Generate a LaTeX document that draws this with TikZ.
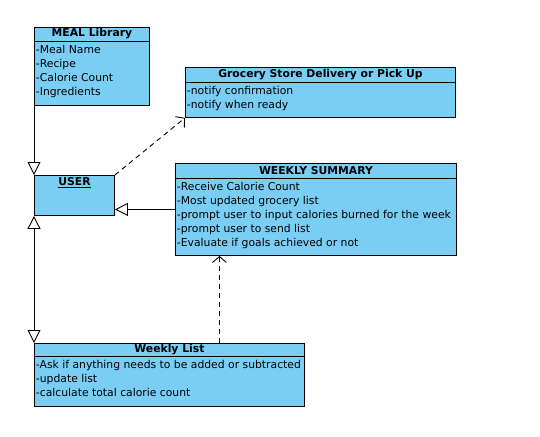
\documentclass[tikz,border=0pt]{standalone}
\usepackage{fontspec}
\setmainfont{DejaVu Sans}
\usetikzlibrary{arrows.meta,positioning}
\definecolor{umlblue}{RGB}{122,206,244}
\tikzset{
  umlbox/.style={draw, fill=umlblue, anchor=north west, inner sep=0pt},
  umlhead/.style={font=\fontsize{10.8}{14}\selectfont\bfseries, inner sep=0pt},
  umlbody/.style={font=\fontsize{10.8}{14}\selectfont, align=left, anchor=north west, inner xsep=1.5pt, inner ysep=3.5pt},
  inherit/.style={-{Triangle[open,length=13pt,width=13pt]}},
  depend/.style={dash pattern=on 5pt off 4pt, -{Straight Barb[length=6pt,width=14pt]}},
}
\begin{document}
\begin{tikzpicture}[x=1pt,y=-1pt,line width=0.9pt]
  \useasboundingbox (0,0) rectangle (540,436);
  % classes
  \node[umlbox, minimum width=115pt, minimum height=78pt] (meal) at (34,27) {};
  \node[umlhead] (mealhead) at ([yshift=-7pt]meal.north) {MEAL Library};
  \draw ([yshift=-14pt]meal.north west) -- ([yshift=-14pt]meal.north east);
  \node[umlbody] (mealbody) at ([yshift=-14pt]meal.north west)
    {-Meal Name\\-Recipe\\-Calorie Count\\-Ingredients};

  \node[umlbox, minimum width=270pt, minimum height=50pt] (grocery) at (185,67) {};
  \node[umlhead] (groceryhead) at ([yshift=-7.5pt]grocery.north) {Grocery Store Delivery or Pick Up};
  \draw ([yshift=-15pt]grocery.north west) -- ([yshift=-15pt]grocery.north east);
  \node[umlbody] (grocerybody) at ([yshift=-15pt]grocery.north west)
    {-notify confirmation\\-notify when ready};

  \node[umlbox, minimum width=80pt, minimum height=40pt] (user) at (34,175) {};
  \node[umlhead] (userhead) at ([yshift=-8pt]user.north) {\underline{USER}};

  \node[umlbox, minimum width=281pt, minimum height=92pt] (wsum) at (175,163) {};
  \node[umlhead] (wsumhead) at ([yshift=-7.5pt]wsum.north) {WEEKLY SUMMARY};
  \draw ([yshift=-15pt]wsum.north west) -- ([yshift=-15pt]wsum.north east);
  \node[umlbody] (wsumbody) at ([yshift=-15pt]wsum.north west)
    {-Receive Calorie Count\\-Most updated grocery list\\-prompt user to input calories burned for the week\\-prompt user to send list\\-Evaluate if goals achieved or not};

  \node[umlbox, minimum width=270pt, minimum height=63pt] (wlist) at (34,343) {};
  \node[umlhead] (wlisthead) at ([yshift=-6.5pt]wlist.north) {Weekly List};
  \draw ([yshift=-13pt]wlist.north west) -- ([yshift=-13pt]wlist.north east);
  \node[umlbody] (wlistbody) at ([yshift=-13pt]wlist.north west)
    {-Ask if anything needs to be added or subtracted\\-update list\\-calculate total calorie count};

  % connectors
  \draw[inherit] (meal.south west) -- (user.north west);
  \draw[inherit] (wsum.west) -- (wsum.west -| user.east);
  \draw[{Triangle[open,length=13pt,width=13pt]}-{Triangle[open,length=13pt,width=13pt]}] (wlist.north west) -- (user.south west);
  \draw[depend] (user.north east) -- (grocery.south west);
  \draw[depend] ([xshift=50pt]wlist.north) -- ([xshift=50pt]wlist.north |- wsum.south);
\end{tikzpicture}
\end{document}
